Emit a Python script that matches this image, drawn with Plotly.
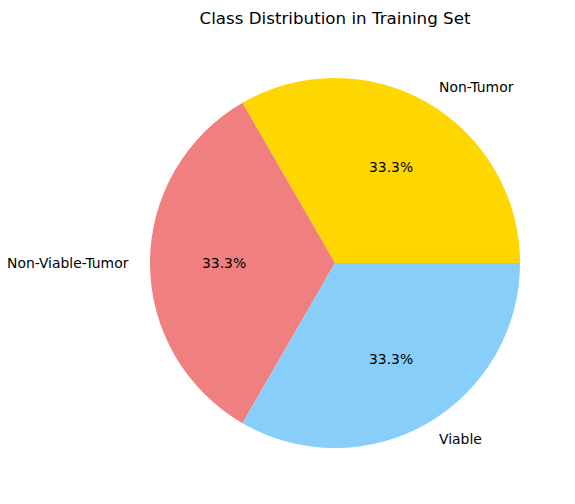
import math
import plotly.graph_objects as go

# Data
labels = ["Non-Tumor", "Non-Viable-Tumor", "Viable"]
counts = [1, 1, 1]
colors = ["#FFD700", "#F08080", "#87CEFA"]

W, H = 575, 504
off = 8  # page body margin shifts the figure
cx, cy, r = 335 - off, 263 - off, 185  # pie centre / radius in pixels

total = sum(counts)

fig = go.Figure()
fig.add_trace(
    go.Pie(
        labels=labels,
        values=counts,
        marker=dict(colors=colors, line=dict(width=0)),
        sort=False,
        direction="counterclockwise",
        # plotly ends the first ccw slice at `rotation`, so start it at 3 o'clock
        rotation=90 - 360 * counts[0] / total,
        textinfo="none",
        hoverinfo="label+percent",
        showlegend=False,
        domain=dict(x=[(cx - r) / W, (cx + r) / W], y=[1 - (cy + r) / H, 1 - (cy - r) / H]),
    )
)

# label and percentage text placed like matplotlib (labeldistance 1.1, pctdistance 0.6)
start = 0.0
annotations = []
for lab, val in zip(labels, counts):
    frac = val / total
    mid = math.radians((start + frac / 2) * 360)
    start += frac
    cos_a, sin_a = math.cos(mid), math.sin(mid)
    # outer label
    lx = (cx + 1.1 * r * cos_a) / W
    ly = 1 - (cy - 1.1 * r * sin_a) / H
    annotations.append(dict(
        x=lx, y=ly, xref="paper", yref="paper", text=lab, showarrow=False,
        xanchor="left" if cos_a > 0 else "right", yanchor="middle",
        font=dict(family="DejaVu Sans", size=13.9, color="black"),
    ))
    # percentage
    px = (cx + 0.6 * r * cos_a) / W
    py = 1 - (cy - 0.6 * r * sin_a) / H
    annotations.append(dict(
        x=px, y=py, xref="paper", yref="paper", text=f"{frac * 100:.1f}%", showarrow=False,
        xanchor="center", yanchor="middle",
        font=dict(family="DejaVu Sans", size=13.9, color="black"),
    ))

fig.update_layout(
    width=W,
    height=H,
    margin=dict(l=0, r=0, t=0, b=0),
    paper_bgcolor="white",
    plot_bgcolor="white",
    title=dict(
        text="Class Distribution in Training Set",
        x=cx / W, xanchor="center",
        y=1 - (18 - off) / H, yanchor="middle",
        font=dict(family="DejaVu Sans", size=16.7, color="black"),
    ),
    annotations=annotations,
)

fig.write_html("out.html")
